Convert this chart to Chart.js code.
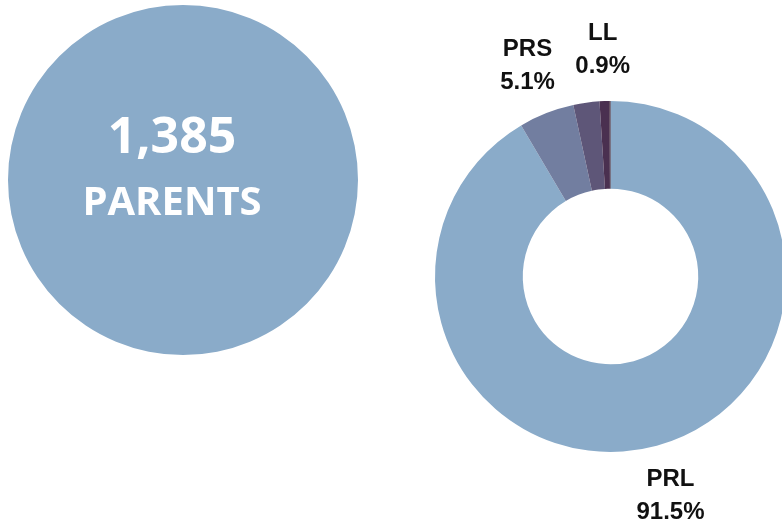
<!DOCTYPE html>
<html>
<head>
<meta charset="utf-8">
<script src="https://cdn.jsdelivr.net/npm/chart.js"></script>
<style>
  html, body { margin: 0; padding: 0; background: #fff; overflow: hidden; width: 782px; height: 526px; }
  .box { position: absolute; }
  #leftBox { left: 0; top: 0; width: 366px; height: 360px; }
  #rightBox { left: 400px; top: 0; width: 422px; height: 526px; }
</style>
</head>
<body>
<div class="box" id="leftBox"><canvas id="totalChart"></canvas></div>
<div class="box" id="rightBox"><canvas id="splitChart"></canvas></div>
<script>
"use strict";
// Total de pais (círculo cheio)
const totalLabel = 'PARENTS';
const totalValue = 1385;

// Divisão por programa (rosca)
const categorias = ['PRL', 'PRS', '', 'LL', ''];
const percentuais = [91.5, 5.1, 2.4, 0.9, 0.1];
const cores = ['#8aabc9', '#727ea0', '#5e5678', '#4a3050', '#2e1226'];

// Texto branco no centro do círculo
const centroTexto = {
  id: 'centroTexto',
  afterDraw(chart) {
    const ctx = chart.ctx;
    const arc = chart.getDatasetMeta(0).data[0];
    const x = arc.x - 11, y = arc.y;
    ctx.save();
    ctx.fillStyle = '#ffffff';
    ctx.textAlign = 'center';
    ctx.textBaseline = 'alphabetic';
    ctx.font = 'bold 50px "Open Sans"';
    ctx.fillText(totalValue.toLocaleString('en-US'), x, y - 27);
    ctx.font = 'bold 40px "Open Sans"';
    ctx.fillText(totalLabel, x, y + 35);
    ctx.restore();
  }
};

// Rótulos fora da rosca, no ângulo médio de cada fatia
const rotulosFora = {
  id: 'rotulosFora',
  afterDraw(chart) {
    const ctx = chart.ctx;
    ctx.save();
    ctx.fillStyle = '#111111';
    ctx.textAlign = 'center';
    ctx.textBaseline = 'middle';
    ctx.font = 'bold 24px "Liberation Sans", Arial, sans-serif';
    chart.getDatasetMeta(0).data.forEach((arc, i) => {
      if (!categorias[i]) return;
      const mid = (arc.startAngle + arc.endAngle) / 2;
      const r = arc.outerRadius * 1.295;
      const cx = arc.x + Math.cos(mid) * r;
      const cy = arc.y + Math.sin(mid) * r;
      ctx.fillText(categorias[i], cx, cy - 16);
      ctx.fillText(percentuais[i].toFixed(1) + '%', cx, cy + 17);
    });
    ctx.restore();
  }
};

const baseOpts = {
  responsive: true,
  maintainAspectRatio: false,
  animation: false,
  plugins: { legend: { display: false }, tooltip: { enabled: false } }
};

new Chart(document.getElementById('totalChart'), {
  type: 'pie',
  data: {
    labels: [totalLabel],
    datasets: [{ data: [totalValue], backgroundColor: ['#8aabc9'], borderWidth: 0 }]
  },
  options: Object.assign({}, baseOpts, {
    layout: { padding: { left: 8, right: 8, top: 5, bottom: 5 } }
  }),
  plugins: [centroTexto]
});

new Chart(document.getElementById('splitChart'), {
  type: 'doughnut',
  data: {
    labels: categorias,
    datasets: [{ data: percentuais, backgroundColor: cores, borderWidth: 0 }]
  },
  options: Object.assign({}, baseOpts, {
    cutout: '50%',
    layout: { padding: { left: 35, right: 36, top: 101, bottom: 74 } }
  }),
  plugins: [rotulosFora]
});
</script>
</body>
</html>
